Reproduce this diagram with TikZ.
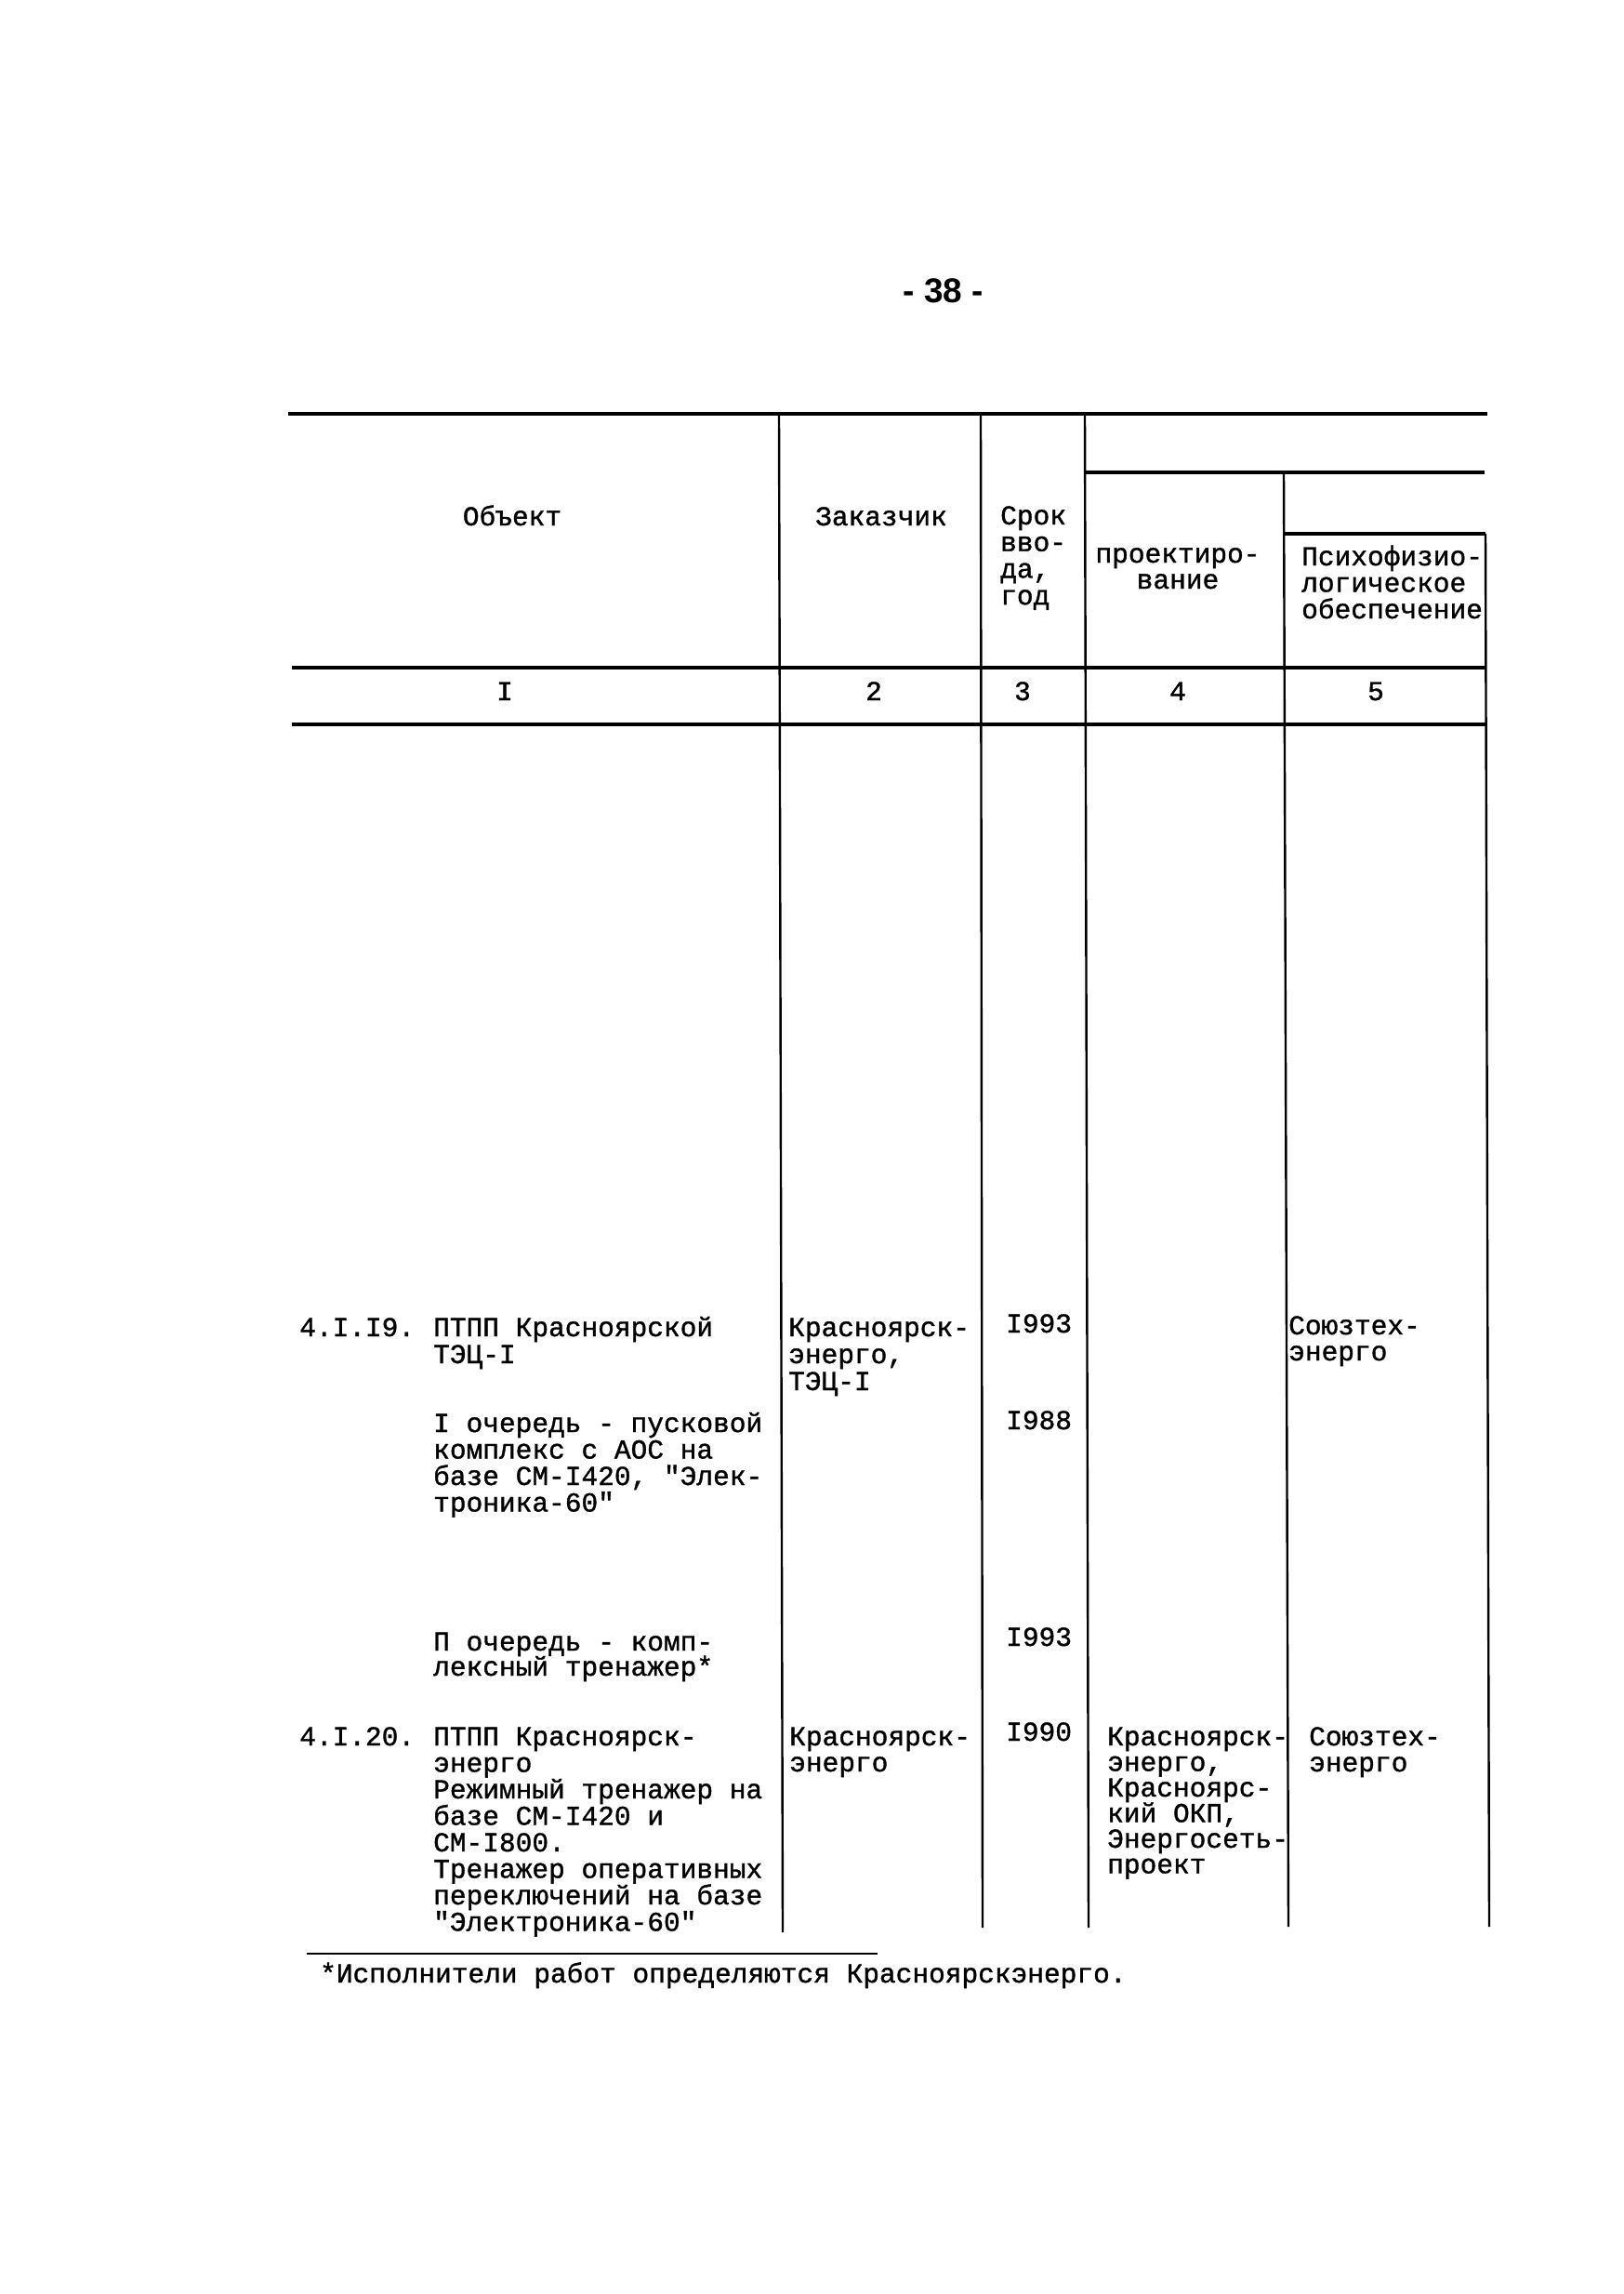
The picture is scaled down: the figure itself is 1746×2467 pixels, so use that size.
\documentclass[tikz,border=0pt]{standalone}
\usepackage{fontspec}
\newfontfamily\tw[FakeBold=1.2]{Liberation Mono}
\newfontfamily\pn{Liberation Sans}
\newcommand\tlines[5]{%
  \foreach \ln [count=\k from 1] in {#5} {
    \node[txt] (#1\k) at (#2, {#3 + (\k-1)*#4}) {\ln};
  }}
\begin{document}
\begin{tikzpicture}[x=1pt,y=-1pt,
  txt/.style={font=\tw\fontsize{29.5}{29.5}\selectfont, inner sep=0pt, anchor=base west},
  ctxt/.style={txt, anchor=base},
  hrule/.style={line width=3.2pt},
  vrule/.style={line width=2.4pt}]
\useasboundingbox[fill=white] (0,0) rectangle (1746,2467);

% page number
\node[font=\pn\bfseries\fontsize{37}{37}\selectfont, inner sep=0pt, anchor=base] (pg) at (1015,325) {- 38 -};

% coordinates of rules
\coordinate (ta) at (310,445);  \coordinate (tb) at (1600,445);
\coordinate (sa) at (1167,508); \coordinate (sb) at (1597,508);
\coordinate (ra) at (1381,574); \coordinate (rb) at (1598,574);
\coordinate (ha) at (314,718);  \coordinate (hb) at (1598,718);
\coordinate (na) at (314,779);  \coordinate (nb) at (1598,779);
\coordinate (v1a) at (838,445);  \coordinate (v1b) at (842,2078);
\coordinate (v2a) at (1055,445); \coordinate (v2b) at (1057,2073);
\coordinate (v3a) at (1167,445); \coordinate (v3b) at (1171,2073);
\coordinate (v4a) at (1381,508); \coordinate (v4b) at (1386,2072);
\coordinate (v5a) at (1598,574); \coordinate (v5b) at (1602,2072);
\coordinate (fa) at (330,2101);  \coordinate (fb) at (944,2101);

\draw[hrule] (ta) -- (tb);
\draw[hrule] (sa) -- (sb);
\draw[hrule] (ra) -- (rb);
\draw[hrule, line width=4pt] (ha) -- (hb);
\draw[hrule, line width=4pt] (na) -- (nb);
\draw[vrule] (v1a) -- (v1b);
\draw[vrule] (v2a) -- (v2b);
\draw[vrule] (v3a) -- (v3b);
\draw[vrule] (v4a) -- (v4b);
\draw[vrule] (v5a) -- (v5b);
\draw[hrule, line width=2.6pt] (fa) -- (fb);

% header
\node[ctxt] (h1) at (551,565) {Объект};
\node[ctxt] (h2) at (948,565) {Заказчик};
\tlines{h3}{1076}{564}{28.7}{Срок,вво-,{да,},год}
\node[ctxt] (h4a) at (1267,605) {проектиро-};
\node[ctxt] (h4b) at (1267,633) {вание};
\tlines{h5}{1400}{608}{28.5}{Психофизио-,логическое,обеспечение}

% column numbers
\node[ctxt] (n1) at (543,753) {I};
\node[ctxt] (n2) at (940,753) {2};
\node[ctxt] (n3) at (1100,753) {3};
\node[ctxt] (n4) at (1267,753) {4};
\node[ctxt] (n5) at (1480,753) {5};

% 4.I.19
\node[txt] (a0) at (322,1437) {4.I.I9.};
\tlines{a}{466}{1437}{29}{ПТПП Красноярской,ТЭЦ-I}
\tlines{ab}{848}{1437}{29}{Красноярск-,{энерго,},ТЭЦ-I}
\node[txt] (ac) at (1082,1433) {I993};
\tlines{ae}{1386}{1435}{28}{Союзтех-,энерго}
\tlines{aq}{466}{1540}{28.5}{I очередь - пусковой,комплекс с АОС на,{базе СМ-I420, "Элек-},троника-60"}
\node[txt] (aqc) at (1082,1537) {I988};
\tlines{ar}{466}{1775}{27}{П очередь - комп-,лексный тренажер*}
\node[txt] (arc) at (1082,1770) {I993};

% 4.I.20
\node[txt] (b0) at (322,1877) {4.I.20.};
\tlines{b}{466}{1877}{28.5}{ПТПП Красноярск-,энерго,Режимный тренажер на,базе СМ-I420 и,СМ-I800.,Тренажер оперативных,переключений на базе,"Электроника-60"}
\tlines{bb}{849}{1877}{28}{Красноярск-,энерго}
\node[txt] (bc) at (1082,1872) {I990};
\tlines{bd}{1191}{1877}{27.5}{Красноярск-,{энерго,},Красноярс-,{кий ОКП,},Энергосеть-,проект}
\tlines{be}{1408}{1877}{28}{Союзтех-,энерго}

% footnote
\node[txt] (fn) at (344,2132) {*Исполнители работ определяются Красноярскэнерго.};
\end{tikzpicture}
\end{document}
